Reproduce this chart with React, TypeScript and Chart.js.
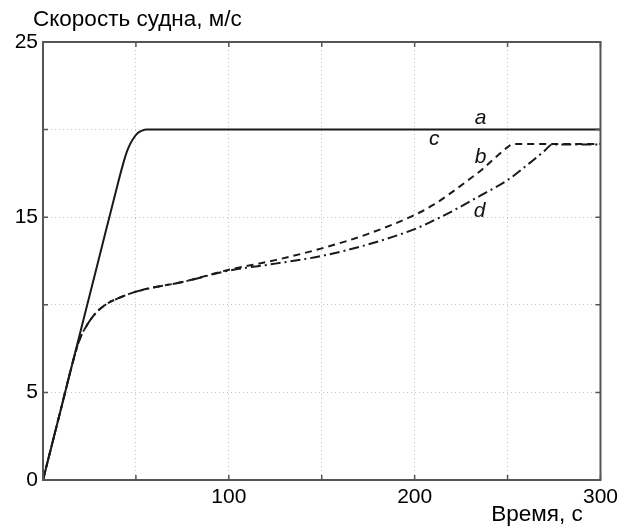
import React, { useEffect, useRef } from 'react';
import { Chart, registerables } from 'chart.js';
Chart.register(...registerables);

// Curve a (coincides with c): time, s / speed, m/s
const timeA = [0, 10, 20, 30, 40, 43, 45, 47, 49, 51, 53, 56, 300];
const speedA = [0, 4.2, 8.4, 12.6, 16.8, 18.0, 18.7, 19.2, 19.55, 19.8, 19.93, 20, 20];

// Curve b (dashed)
const timeB = [0, 10, 17, 20, 24, 27, 30, 35, 40, 50, 60, 75, 100, 125, 150, 175, 200, 210, 218, 228, 236, 245, 250, 253, 300];
const speedB = [0, 4.2, 7.1, 8.1, 8.9, 9.35, 9.7, 10.1, 10.35, 10.75, 11.0, 11.3, 12.0, 12.55, 13.22, 14.05, 15.13, 15.7, 16.27, 17.05, 17.7, 18.55, 19.0, 19.18, 19.18];

// Curve d (dash-dot)
const timeD = [0, 10, 17, 20, 24, 27, 30, 35, 40, 50, 60, 75, 100, 125, 150, 175, 200, 210, 218, 236, 250, 262, 270, 274, 300];
const speedD = [0, 4.2, 7.1, 8.1, 8.9, 9.35, 9.7, 10.1, 10.35, 10.75, 11.0, 11.3, 11.95, 12.35, 12.79, 13.45, 14.32, 14.8, 15.22, 16.27, 17.12, 18.1, 18.8, 19.15, 19.15];

// Curve annotations (in data coordinates)
const curveNames = ['a', 'c', 'b', 'd'];
const curveLabelX = [235.5, 210.5, 235.5, 235];
const curveLabelY = [20.65, 19.45, 18.45, 15.32];

const xTickLabels = [100, 200, 300];
const yTickLabels = [0, 5, 15, 25];

const yTitle = 'Скорость судна, м/с';
const xTitle = 'Время, с';

const FONT = '"Liberation Sans", Arial, sans-serif';

const toPts = (xs: number[], ys: number[]) => xs.map((x, i) => ({ x, y: ys[i] }));

const framePlugin = {
  id: 'frameAndText',
  afterDraw(chart: any) {
    const { ctx, chartArea: ca, scales } = chart;
    const xs = scales.x;
    const ys = scales.y;
    ctx.save();
    // frame
    ctx.strokeStyle = '#555';
    ctx.lineWidth = 2;
    ctx.strokeRect(ca.left, ca.top, ca.right - ca.left, ca.bottom - ca.top);
    // inward ticks
    ctx.lineWidth = 1.5;
    ctx.beginPath();
    xs.ticks.forEach((t: any) => {
      const px = xs.getPixelForValue(t.value);
      ctx.moveTo(px, ca.bottom);
      ctx.lineTo(px, ca.bottom - 5);
      ctx.moveTo(px, ca.top);
      ctx.lineTo(px, ca.top + 5);
    });
    ys.ticks.forEach((t: any) => {
      const py = ys.getPixelForValue(t.value);
      ctx.moveTo(ca.left, py);
      ctx.lineTo(ca.left + 5, py);
      ctx.moveTo(ca.right, py);
      ctx.lineTo(ca.right - 5, py);
    });
    ctx.stroke();
    // curve labels
    ctx.fillStyle = '#111';
    ctx.font = `italic 21px ${FONT}`;
    ctx.textAlign = 'center';
    ctx.textBaseline = 'middle';
    curveNames.forEach((n, i) => {
      ctx.fillText(n, xs.getPixelForValue(curveLabelX[i]), ys.getPixelForValue(curveLabelY[i]));
    });
    // titles
    ctx.fillStyle = '#000';
    ctx.font = `22.5px ${FONT}`;
    ctx.textAlign = 'left';
    ctx.textBaseline = 'middle';
    ctx.fillText(yTitle, 33, 20);
    ctx.textAlign = 'center';
    ctx.fillText(xTitle, 537, 515);
    ctx.restore();
  },
};

export default function App() {
  const ref = useRef<HTMLCanvasElement | null>(null);
  useEffect(() => {
    if (!ref.current) return;
    const lineCommon = {
      borderColor: '#1a1a1a',
      borderWidth: 2,
      pointRadius: 0,
      fill: false,
      cubicInterpolationMode: 'monotone' as const,
    };
    const chart = new Chart(ref.current, {
      type: 'line',
      data: {
        datasets: [
          { label: 'a', data: toPts(timeA, speedA), ...lineCommon },
          { label: 'b', data: toPts(timeB, speedB), ...lineCommon, borderDash: [7, 5] },
          { label: 'd', data: toPts(timeD, speedD), ...lineCommon, borderDash: [10, 4, 2, 4] },
        ],
      },
      options: {
        animation: false,
        responsive: false,
        devicePixelRatio: 1,
        parsing: false as any,
        layout: { padding: { top: 42, right: 20, left: 0, bottom: 0 } },
        plugins: { legend: { display: false }, tooltip: { enabled: false }, title: { display: false } },
        scales: {
          x: {
            type: 'linear',
            min: 0,
            max: 300,
            ticks: {
              stepSize: 50,
              autoSkip: false,
              maxRotation: 0,
              padding: 5,
              color: '#000',
              font: { family: FONT, size: 21 },
              callback: (v: any) => (xTickLabels.includes(Number(v)) ? String(v) : ''),
            },
            grid: { color: '#c4c4c4', lineWidth: 1, drawTicks: false },
            border: { display: false, dash: [1, 3] },
            afterFit: (s: any) => {
              s.height = 46;
            },
          },
          y: {
            type: 'linear',
            min: 0,
            max: 25,
            ticks: {
              stepSize: 5,
              autoSkip: false,
              padding: 5,
              color: '#000',
              font: { family: FONT, size: 21 },
              callback: (v: any) => (yTickLabels.includes(Number(v)) ? String(v) : ''),
            },
            grid: { color: '#c4c4c4', lineWidth: 1, drawTicks: false },
            border: { display: false, dash: [1, 3] },
            afterFit: (s: any) => {
              s.width = 43;
            },
          },
        },
      },
      plugins: [framePlugin],
    });
    return () => chart.destroy();
  }, []);
  return (
    <div style={{ position: 'fixed', left: 0, top: 0, width: 623, height: 526, background: '#fff' }}>
      <canvas ref={ref} width={623} height={526} style={{ width: 623, height: 526 }} />
    </div>
  );
}
